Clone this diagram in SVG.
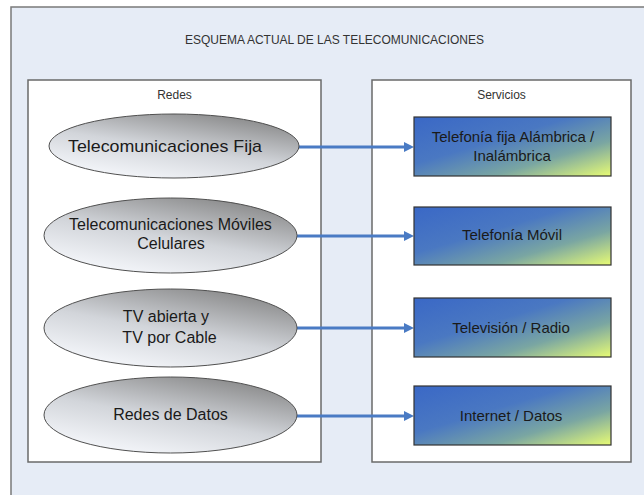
<svg xmlns="http://www.w3.org/2000/svg" width="644" height="495" viewBox="0 0 644 495">
  <defs>
    <linearGradient id="ellGrad" x1="0.25" y1="1" x2="0.85" y2="0">
      <stop offset="0" stop-color="#f6f8fc"/>
      <stop offset="0.45" stop-color="#d2d5da"/>
      <stop offset="1" stop-color="#828282"/>
    </linearGradient>
    <linearGradient id="boxGrad" x1="0" y1="0" x2="1" y2="1">
      <stop offset="0" stop-color="#3a68c6"/>
      <stop offset="0.4" stop-color="#4a78c2"/>
      <stop offset="0.7" stop-color="#7aa6a2"/>
      <stop offset="1" stop-color="#e8fc74"/>
    </linearGradient>
    <marker id="arrow" viewBox="0 0 10 10" refX="1" refY="5" markerWidth="10" markerHeight="10" markerUnits="userSpaceOnUse" orient="auto">
      <path d="M0,0 L10,5 L0,10 z" fill="#4a7bc4"/>
    </marker>
    <style>
      .frame { fill: #e6ecf6; stroke: #7a7a7a; stroke-width: 1.5; }
      .panel { fill: #ffffff; stroke: #6a6a6a; stroke-width: 1.5; }
      .ell { fill: url(#ellGrad); stroke: #505050; stroke-width: 1; }
      .box { fill: url(#boxGrad); stroke: #333333; stroke-width: 1.2; }
      .conn { stroke: #4a7bc4; stroke-width: 3; fill: none; marker-end: url(#arrow); }
      text { font-family: "Liberation Sans", Arial, sans-serif; text-anchor: middle; }
      .hdr { font-size: 12px; fill: #333333; }
      .et { font-size: 16px; fill: #1a1a1a; }
      .bt { font-size: 15px; fill: #1a1a1a; }
    </style>
  </defs>
  <rect x="0" y="0" width="644" height="495" fill="#ffffff"/>
  <rect class="frame" x="11" y="7" width="700" height="600"/>
  <text class="hdr" x="334.5" y="44" textLength="299" lengthAdjust="spacingAndGlyphs">ESQUEMA ACTUAL DE LAS TELECOMUNICACIONES</text>

  <g id="panel-redes">
    <rect class="panel" x="28" y="80" width="293" height="382"/>
    <text class="hdr" x="174.5" y="99">Redes</text>
  </g>
  <g id="panel-servicios">
    <rect class="panel" x="372" y="80" width="259" height="382"/>
    <text class="hdr" x="501.5" y="99">Servicios</text>
  </g>

  <g id="connectors">
    <line class="conn" x1="299" y1="147" x2="405" y2="147"/>
    <line class="conn" x1="297" y1="236" x2="405" y2="236"/>
    <line class="conn" x1="297" y1="328" x2="405" y2="328"/>
    <line class="conn" x1="297" y1="416" x2="405" y2="416"/>
  </g>

  <g id="red-fija">
    <ellipse class="ell" cx="174" cy="146" rx="125" ry="32"/>
    <text class="et" x="165" y="152" style="font-size:17px" textLength="194" lengthAdjust="spacingAndGlyphs">Telecomunicaciones Fija</text>
  </g>
  <g id="red-moviles">
    <ellipse class="ell" cx="170.5" cy="235.5" rx="126.5" ry="37.5"/>
    <text class="et" x="170.5" y="230">Telecomunicaciones Móviles</text>
    <text class="et" x="171" y="249">Celulares</text>
  </g>
  <g id="red-tv">
    <ellipse class="ell" cx="170.5" cy="328" rx="126.5" ry="39"/>
    <text class="et" x="166" y="322">TV abierta y</text>
    <text class="et" x="169.5" y="343">TV por Cable</text>
  </g>
  <g id="red-datos">
    <ellipse class="ell" cx="170.5" cy="415" rx="126.5" ry="38"/>
    <text class="et" x="170.5" y="420">Redes de Datos</text>
  </g>

  <g id="srv-fija">
    <rect class="box" x="414" y="117" width="197" height="59"/>
    <text class="bt" x="513" y="142">Telefonía fija Alámbrica /</text>
    <text class="bt" x="512" y="161">Inalámbrica</text>
  </g>
  <g id="srv-movil">
    <rect class="box" x="414" y="207" width="197" height="58"/>
    <text class="bt" x="512" y="240">Telefonía Móvil</text>
  </g>
  <g id="srv-tv">
    <rect class="box" x="414" y="298" width="197" height="59"/>
    <text class="bt" x="511" y="333">Televisión / Radio</text>
  </g>
  <g id="srv-internet">
    <rect class="box" x="414" y="386" width="197" height="59"/>
    <text class="bt" x="511" y="421">Internet / Datos</text>
  </g>
</svg>
